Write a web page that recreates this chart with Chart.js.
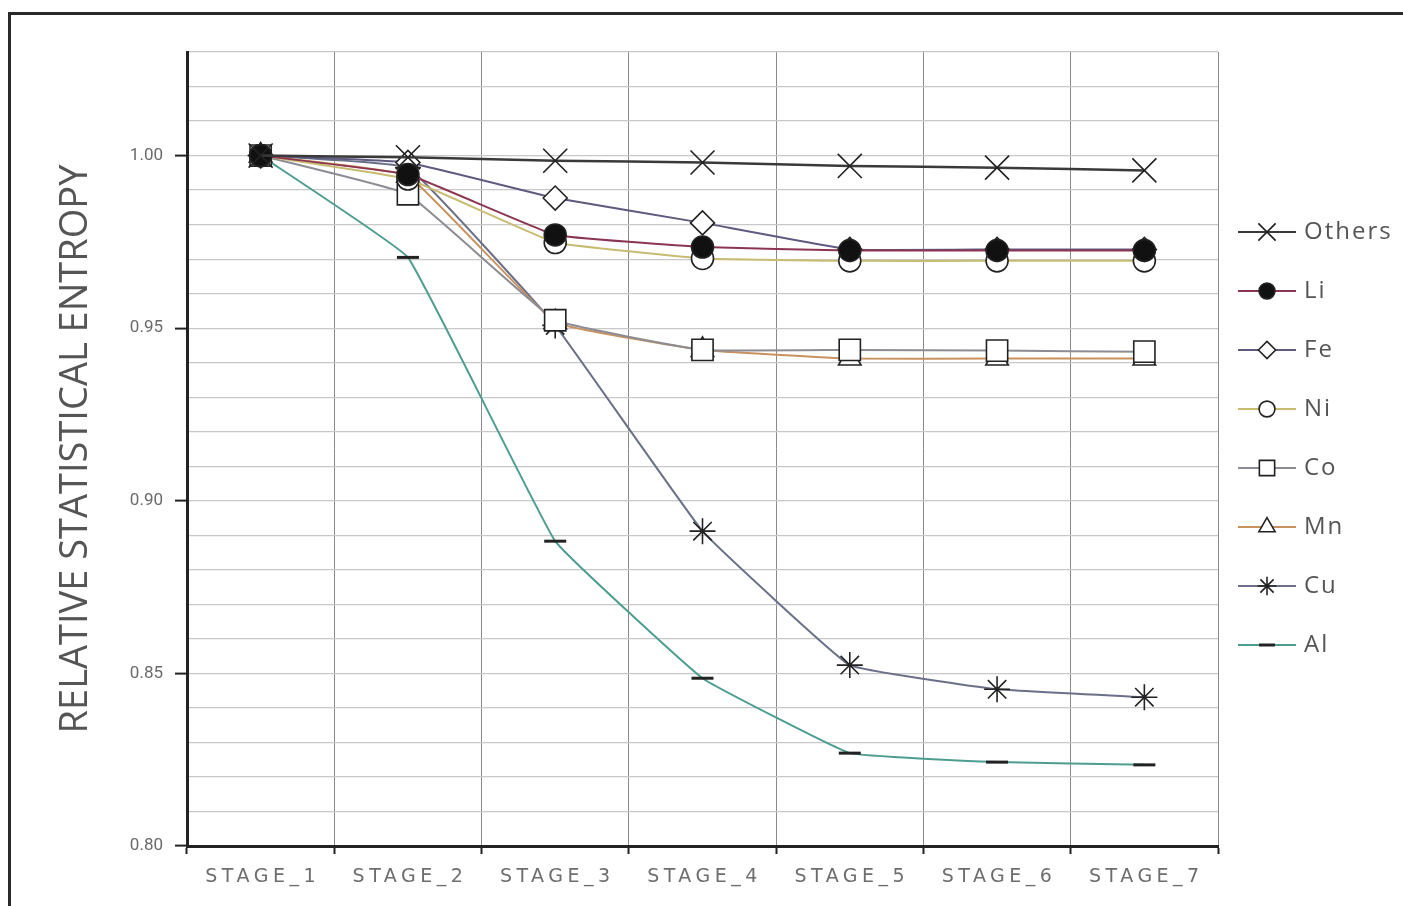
<!DOCTYPE html>
<html>
<head>
<meta charset="utf-8">
<script src="https://cdn.jsdelivr.net/npm/chart.js@4"></script>
<style>
    html, body { margin: 0; padding: 0; background: #fff; }
    #wrap { position: relative; width: 1403px; height: 906px; overflow: hidden; }
    #frame { position: absolute; left: 8px; top: 12px; width: 1500px; height: 1000px;
             border-top: 3px solid #2a2a2a; border-left: 3px solid #2a2a2a; }
    canvas { position: absolute; left: 0; top: 0; }
</style>
</head>
<body>
<div id="wrap">
    <div id="frame"></div>
    <canvas id="entropyChart" width="1403" height="906"></canvas>
</div>
<script>
const stages = ["STAGE_1", "STAGE_2", "STAGE_3", "STAGE_4", "STAGE_5", "STAGE_6", "STAGE_7"];

const others = [1.000, 0.9995, 0.9985, 0.998, 0.997, 0.9965, 0.9957];
const li = [1.000, 0.9945, 0.977, 0.9735, 0.9725, 0.9725, 0.9725];
const fe = [1.000, 0.998, 0.9877, 0.9805, 0.9728, 0.9728, 0.9728];
const ni = [1.000, 0.9932, 0.9748, 0.9702, 0.9695, 0.9695, 0.9695];
const co = [1.000, 0.9888, 0.9523, 0.9437, 0.9437, 0.9435, 0.9432];
const mn = [1.000, 0.9942, 0.9517, 0.9437, 0.9412, 0.9412, 0.9412];
const cu = [1.000, 0.9965, 0.9508, 0.8912, 0.8524, 0.8454, 0.8431];
const al = [1.000, 0.9705, 0.8883, 0.8486, 0.8269, 0.8243, 0.8235];

const yTicks = [0.80, 0.85, 0.90, 0.95, 1.00];

function series(label, data, lineColor, style, radius, fill) {
    return {
        label: label,
        data: data,
        borderColor: lineColor,
        borderWidth: 2,
        tension: 0.08,
        pointStyle: style,
        pointRadius: radius,
        pointHoverRadius: radius,
        pointBorderColor: "#222",
        pointBackgroundColor: fill,
        pointBorderWidth: style === "line" ? 3 : 1.6
    };
}

const datasets = [
    series("Others", others, "#3a3a3a", "crossRot", 17, "#222"),
    series("Li", li, "#8c3550", "circle", 11, "#111"),
    series("Fe", fe, "#5e5a80", "rectRot", 12, "#fff"),
    series("Ni", ni, "#c8bc72", "circle", 11, "#fff"),
    series("Co", co, "#8c8c94", "rect", 15, "#fff"),
    series("Mn", mn, "#c8925e", "triangle", 13, "#fff"),
    series("Cu", cu, "#6a7088", "star", 13, "#222"),
    series("Al", al, "#4d9e90", "line", 11, "#222")
];
datasets[0].borderWidth = 2.5;

// legend with a short line through each marker, drawn at the right
const sideLegend = {
    id: "sideLegend",
    afterDraw(chart) {
        const ctx = chart.ctx;
        ctx.save();
        chart.data.datasets.forEach((ds, i) => {
            const y = 232 + i * 59;
            ctx.strokeStyle = ds.borderColor;
            ctx.lineWidth = 2;
            ctx.beginPath();
            ctx.moveTo(1238, y);
            ctx.lineTo(1296, y);
            ctx.stroke();
            ctx.strokeStyle = ds.pointBorderColor;
            ctx.fillStyle = ds.pointBackgroundColor;
            ctx.lineWidth = ds.pointBorderWidth;
            Chart.helpers.drawPoint(ctx, {
                pointStyle: ds.pointStyle,
                radius: ds.pointRadius * 0.72,
                rotation: 0,
                borderWidth: ds.pointBorderWidth
            }, 1267, y);
            ctx.fillStyle = "#555";
            ctx.font = "24px 'Open Sans'";
            ctx.letterSpacing = "2px";
            ctx.textBaseline = "middle";
            ctx.textAlign = "left";
            ctx.fillText(ds.label, 1304, y);
        });
        ctx.restore();
    }
};

// spaced-out stage labels under the x axis
const stageLabels = {
    id: "stageLabels",
    afterDraw(chart) {
        const ctx = chart.ctx;
        const x = chart.scales.x;
        ctx.save();
        ctx.fillStyle = "#6e6e6e";
        ctx.font = "19px 'DejaVu Sans'";
        ctx.letterSpacing = "4.5px";
        ctx.textAlign = "center";
        ctx.textBaseline = "middle";
        stages.forEach((s, i) => {
            ctx.fillText(s, x.getPixelForValue(i) + 2, 877);
        });
        ctx.restore();
    }
};

const isMajor = v => Math.abs(Math.round(v * 100) % 5) === 0;

new Chart(document.getElementById("entropyChart"), {
    type: "line",
    data: { labels: stages, datasets: datasets },
    options: {
        responsive: false,
        animation: false,
        layout: { padding: { top: 52, right: 185, bottom: 0, left: 0 } },
        plugins: {
            legend: { display: false },
            tooltip: { enabled: false }
        },
        scales: {
            x: {
                offset: true,
                grid: {
                    offset: true,
                    color: "#8a8a8a",
                    lineWidth: 1,
                    tickLength: 8,
                    tickColor: "#222",
                    tickWidth: 2
                },
                border: { color: "#222", width: 3 },
                ticks: { display: false },
                afterFit: scale => { scale.height = 60; }
            },
            y: {
                min: 0.80,
                max: 1.03,
                afterBuildTicks: scale => {
                    const t = [];
                    for (let k = 80; k <= 103; k++) t.push({ value: k / 100 });
                    scale.ticks = t;
                },
                grid: {
                    color: "#c8c8c8",
                    lineWidth: 1.2,
                    tickLength: 12,
                    tickColor: c => (c.tick && isMajor(c.tick.value) && c.tick.value <= 1.0) ? "#222" : "rgba(0,0,0,0)",
                    tickWidth: 2
                },
                border: { color: "#222", width: 3 },
                ticks: {
                    color: "#6a6a6a",
                    font: { family: "Roboto", size: 17 },
                    padding: 12,
                    callback: v => yTicks.some(t => Math.abs(t - v) < 1e-6) ? v.toFixed(2) : ""
                },
                title: {
                    display: true,
                    text: "RELATIVE STATISTICAL ENTROPY",
                    color: "#555",
                    font: { family: "Open Sans", size: 38 },
                    padding: { top: 53, bottom: 0 }
                },
                afterFit: scale => { scale.width = 187; }
            }
        }
    },
    plugins: [sideLegend, stageLabels]
});
</script>
</body>
</html>
